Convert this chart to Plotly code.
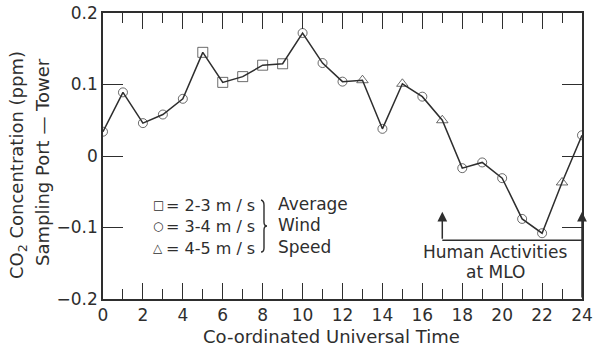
import plotly.graph_objects as go

# Hourly CO2 difference (sampling port minus tower), ppm
hours = list(range(25))
co2_diff = [0.034, 0.089, 0.046, 0.058, 0.080, 0.145, 0.103, 0.111, 0.127, 0.129,
            0.172, 0.130, 0.104, 0.106, 0.038, 0.101, 0.083, 0.050, -0.017, -0.009,
            -0.031, -0.088, -0.108, -0.037, 0.029]
# Average wind speed class for each hour
wind_class = ["3-4", "3-4", "3-4", "3-4", "3-4", "2-3", "2-3", "2-3", "2-3", "2-3",
              "3-4", "3-4", "3-4", "4-5", "3-4", "4-5", "3-4", "4-5", "3-4", "3-4",
              "3-4", "3-4", "3-4", "4-5", "3-4"]

x_major = list(range(0, 25, 2))
x_minor = list(range(1, 24, 2))
y_ticks = [-0.2, -0.1, 0, 0.1, 0.2]
y_ticktext = ["\u22120.2", "\u22120.1", "0", "0.1", "0.2"]

legend_rows = [("\u25a1", "2-3"), ("\u25cb", "3-4"), ("\u25b3", "4-5")]
legend_words = ["Average", "Wind", "Speed"]

human_start, human_end = 17, 24

symbol_of = {"2-3": "square-open", "3-4": "circle-open", "4-5": "triangle-up-open"}
size_of = {"2-3": 10, "3-4": 9, "4-5": 10}

W, H = 594, 347
L, R, T, B = 103, 12, 13, 48
INK = "#2e2e2e"
FONT = "DejaVu Sans"


def px(X):
    return (X - L) / (W - L - R)


def py(Y):
    return (H - B - Y) / (H - T - B)


fig = go.Figure()
fig.add_trace(go.Scatter(
    x=hours, y=co2_diff, mode="lines+markers",
    line=dict(color=INK, width=1.5),
    marker=dict(symbol=[symbol_of[c] for c in wind_class],
                size=[size_of[c] for c in wind_class],
                color=INK, line=dict(color=INK, width=1)),
    showlegend=False, hoverinfo="skip",
))

axis_common = dict(showline=True, linecolor=INK, linewidth=1.6, mirror="ticks",
                   ticks="inside", tickcolor=INK, tickwidth=1.2, showgrid=False,
                   zeroline=False, automargin=False,
                   tickfont=dict(family=FONT, size=17, color=INK))

fig.update_xaxes(range=[0, 24], tickvals=x_major, ticklen=16,
                 minor=dict(tickvals=x_minor, ticks="inside", ticklen=10,
                            tickcolor=INK, tickwidth=1.2, showgrid=False),
                 **axis_common)
fig.update_yaxes(range=[-0.2, 0.2], tickvals=y_ticks, ticktext=y_ticktext,
                 ticklen=20, **axis_common)

ann = []


def text(X, Y, s, size=17, anchor="center", angle=0):
    ann.append(dict(xref="paper", yref="paper", x=px(X), y=py(Y), text=s,
                    showarrow=False, xanchor=anchor, yanchor="middle",
                    textangle=angle, font=dict(family=FONT, size=size, color=INK)))


# axis titles
text(331, 336, "Co-ordinated Universal Time", size=18)
text(18, 165, "CO<sub>2</sub> Concentration (ppm)", size=18, angle=-90)
text(42, 162, "Sampling Port \u2014 Tower", size=18, angle=-90)

# wind speed key
row_y = [205, 226, 248]
for (sym, rng), yy in zip(legend_rows, row_y):
    text(158, yy, sym, size=12)
    text(164, yy, "= " + rng + " m / s", size=16, anchor="left")
for word, yy in zip(legend_words, row_y):
    text(276, yy - 1, word, anchor="left")

# human activity period
text(495, 252, "Human Activities")
text(495, 272, "at MLO")

shapes = []
brace_pts = [(261, 200), (264, 201), (264, 205), (264, 222), (264, 226), (267, 226),
             (264, 226), (264, 230), (264, 248), (264, 252), (261, 252)]
p = brace_pts
path = "M {:.4f},{:.4f}".format(px(p[0][0]), py(p[0][1]))
path += " Q {:.4f},{:.4f} {:.4f},{:.4f}".format(px(p[1][0]), py(p[1][1]), px(p[2][0]), py(p[2][1]))
path += " L {:.4f},{:.4f}".format(px(p[3][0]), py(p[3][1]))
path += " Q {:.4f},{:.4f} {:.4f},{:.4f}".format(px(p[4][0]), py(p[4][1]), px(p[5][0]), py(p[5][1]))
path += " Q {:.4f},{:.4f} {:.4f},{:.4f}".format(px(p[6][0]), py(p[6][1]), px(p[7][0]), py(p[7][1]))
path += " L {:.4f},{:.4f}".format(px(p[8][0]), py(p[8][1]))
path += " Q {:.4f},{:.4f} {:.4f},{:.4f}".format(px(p[9][0]), py(p[9][1]), px(p[10][0]), py(p[10][1]))
shapes.append(dict(type="path", xref="paper", yref="paper", path=path,
                   line=dict(color=INK, width=1.4)))

bracket_y = -0.118
arrow_tip = -0.078
shapes.append(dict(type="line", xref="x", yref="y", x0=human_start, x1=human_end,
                   y0=bracket_y, y1=bracket_y, line=dict(color=INK, width=1.5)))
for hx, base in [(human_start, bracket_y), (human_end, -0.2)]:
    ann.append(dict(xref="x", yref="y", axref="x", ayref="y", x=hx, y=arrow_tip,
                    ax=hx, ay=base, text="", showarrow=True, arrowhead=2,
                    arrowsize=1.3, arrowwidth=1.5, arrowcolor=INK))

fig.update_layout(width=W, height=H, margin=dict(l=L, r=R, t=T, b=B),
                  paper_bgcolor="white", plot_bgcolor="white",
                  annotations=ann, shapes=shapes)

fig.write_html("out.html")
